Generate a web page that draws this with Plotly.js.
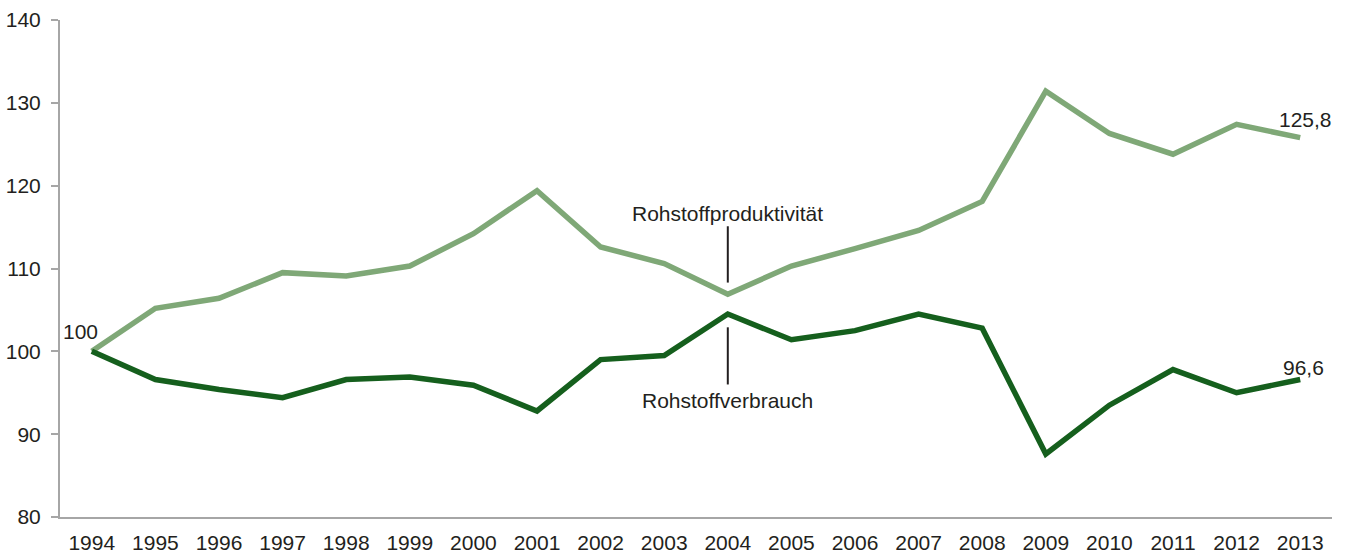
<!DOCTYPE html>
<html>
<head>
<meta charset="utf-8">
<script src="https://cdn.plot.ly/plotly-3.0.1.min.js"></script>
<style>html,body{margin:0;padding:0;background:#fff;}#chart{width:1346px;height:553px;}</style>
</head>
<body>
<div id="chart"></div>
<script>
const years = ["1994","1995","1996","1997","1998","1999","2000","2001","2002","2003","2004","2005","2006","2007","2008","2009","2010","2011","2012","2013"];
const produktivitaet = [100,105.2,106.4,109.5,109.1,110.3,114.2,119.4,112.6,110.6,106.9,110.3,112.4,114.6,118.1,131.4,126.3,123.8,127.4,125.8];
const verbrauch = [100,96.6,95.4,94.4,96.6,96.9,95.9,92.8,99.0,99.5,104.5,101.4,102.5,104.5,102.8,87.6,93.5,97.8,95.0,96.6];
const yTicks = [80,90,100,110,120,130,140];

function f() { return {family: "Liberation Sans", size: 21, color: "#231f20"}; }

const traces = [
  {x: years, y: produktivitaet, type: "scatter", mode: "lines", name: "Rohstoffproduktivität",
   line: {color: "#7fa877", width: 5.5}},
  {x: years, y: verbrauch, type: "scatter", mode: "lines", name: "Rohstoffverbrauch",
   line: {color: "#155f1d", width: 5.5}}
];

const layout = {
  width: 1346, height: 553,
  margin: {l: 60, r: 14, t: 20, b: 36},
  paper_bgcolor: "#fff", plot_bgcolor: "#fff",
  showlegend: false,
  font: f(),
  xaxis: {type: "category", range: [-0.5, 19.5], showgrid: false, zeroline: false,
          showline: true, linecolor: "#a6a6a6", linewidth: 2, ticks: "", tickfont: f(),
          ticklabelstandoff: 6},
  yaxis: {range: [80, 140], tickmode: "array", tickvals: yTicks, showgrid: false, zeroline: false,
          showline: true, linecolor: "#a6a6a6", linewidth: 2, ticks: "outside", ticklen: 7,
          tickcolor: "#a6a6a6", tickwidth: 2, tickfont: f(), ticklabelstandoff: 6},
  shapes: [
    {type: "line", xref: "x", yref: "y", x0: 10, x1: 10, y0: 108.3, y1: 115.1,
     line: {color: "#231f20", width: 2}},
    {type: "line", xref: "x", yref: "y", x0: 10, x1: 10, y0: 96.0, y1: 102.9,
     line: {color: "#231f20", width: 2}}
  ],
  annotations: [
    {x: 10, y: 116.6, xref: "x", yref: "y", text: "Rohstoffproduktivität", showarrow: false, font: f()},
    {x: 10, y: 94.1, xref: "x", yref: "y", text: "Rohstoffverbrauch", showarrow: false, font: f()},
    {x: 0, y: produktivitaet[0], xref: "x", yref: "y", text: String(produktivitaet[0]), showarrow: false,
     font: f(), xshift: -11, yshift: 20},
    {x: 19, y: produktivitaet[19], xref: "x", yref: "y", text: String(produktivitaet[19]).replace(".", ","), showarrow: false,
     font: f(), xshift: 5, yshift: 18},
    {x: 19, y: verbrauch[19], xref: "x", yref: "y", text: String(verbrauch[19]).replace(".", ","), showarrow: false,
     font: f(), xshift: 3, yshift: 12}
  ]
};

Plotly.newPlot("chart", traces, layout, {displayModeBar: false});
</script>
</body>
</html>
